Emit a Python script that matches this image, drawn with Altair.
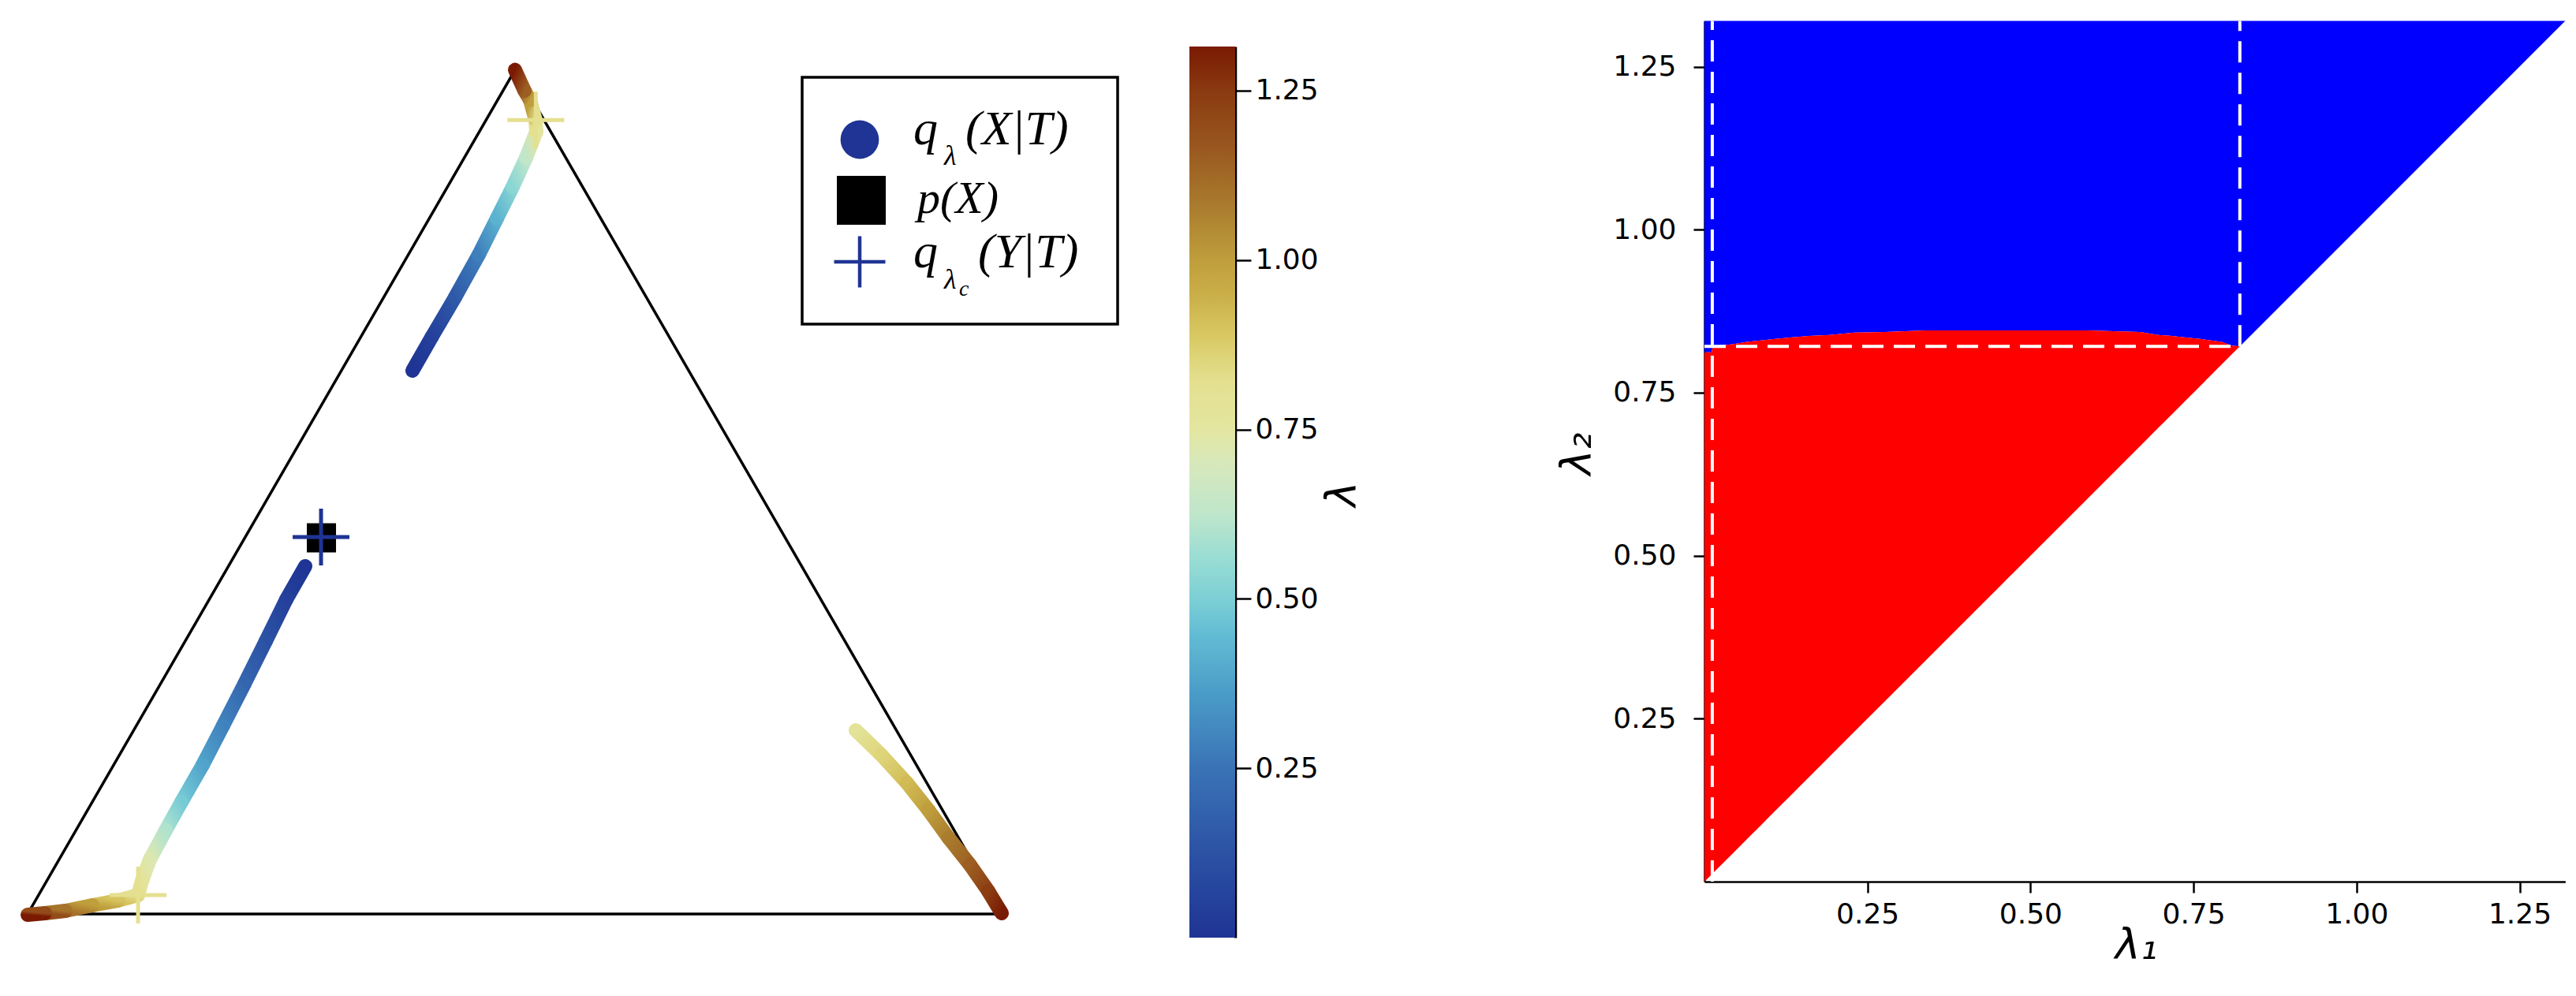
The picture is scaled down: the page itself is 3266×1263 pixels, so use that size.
import altair as alt
import pandas as pd

# ---------------- data ----------------
LAM_MAX = 1.315   # top of the colour bar
LAM_AX = 1.32     # upper limit of both axes of the right panel
TICKS = [0.25, 0.5, 0.75, 1.0, 1.25]

# colour map (lambda -> colour)
CMAP_L = [0.0, 0.136, 0.25, 0.36, 0.447, 0.5, 0.56, 0.625, 0.697, 0.75, 0.82,
          0.89, 0.95, 1.0, 1.07, 1.16, 1.25, 1.315]
CMAP_C = ["#1f3494", "#2d55a6", "#3a73b6", "#4a9cc8", "#62bcd4", "#7ccfd5",
          "#99ddd4", "#bfe6cb", "#d6e8bc", "#e3e6a0", "#e4e090", "#d8c862",
          "#caae48", "#bf9e3c", "#ac8030", "#9a5a20", "#8a3a10", "#7a1a03"]

# simplex outline (cartesian coordinates of the 2-simplex)
TRI_X = [0.0, 1.0, 0.5, 0.0]
TRI_Y = [0.0, 0.0, 0.866, 0.0]

# q_lambda(X|T), three trajectories: x, y, lambda
A_X = [0.3948, 0.4147, 0.4385, 0.4628, 0.4814, 0.4976, 0.5113, 0.5218, 0.5210, 0.5154, 0.5097, 0.5000]
A_Y = [0.5574, 0.5922, 0.6327, 0.6764, 0.7136, 0.7460, 0.7759, 0.8026, 0.8147, 0.8350, 0.8447, 0.8660]
A_L = [0.00, 0.05, 0.15, 0.28, 0.42, 0.53, 0.63, 0.76, 0.82, 1.00, 1.15, 1.315]

B_X = [0.2848, 0.2654, 0.2443, 0.2225, 0.2006, 0.1796, 0.1578, 0.1416, 0.1254, 0.1173, 0.1133,
       0.0930, 0.0663, 0.0388, 0.0178, 0.0000]
B_Y = [0.3568, 0.3228, 0.2799, 0.2362, 0.1934, 0.1529, 0.1149, 0.0858, 0.0558, 0.0340, 0.0194,
       0.0138, 0.0089, 0.0032, 0.0008, -0.0008]
B_L = [0.00, 0.05, 0.12, 0.20, 0.29, 0.38, 0.49, 0.60, 0.72, 0.78, 0.82,
       0.90, 1.00, 1.10, 1.20, 1.315]

C_X = [0.8495, 0.8754, 0.9021, 0.9239, 0.9450, 0.9668, 0.9854, 0.9992]
C_Y = [0.1885, 0.1634, 0.1343, 0.1068, 0.0777, 0.0502, 0.0235, 0.0008]
C_L = [0.78, 0.85, 0.92, 1.00, 1.08, 1.15, 1.24, 1.315]

# p(X)
P_X = [0.3014]
P_Y = [0.3859]
# q_lambda_c(Y|T)
Q_X = [0.3010, 0.5213, 0.1133]
Q_Y = [0.3867, 0.8145, 0.0194]
Q_L = [0.00, 0.82, 0.82]

# right panel: boundary between the two regions (lambda1 -> lambda2)
R_L1 = [0.000, 0.011, 0.013, 0.033, 0.047, 0.065, 0.086, 0.106, 0.131, 0.160, 0.192, 0.230,
        0.277, 0.339, 0.450, 0.587, 0.668, 0.696, 0.714, 0.733, 0.763, 0.777, 0.793,
        0.809, 0.821]
R_TOP = [0.812, 0.812, 0.822, 0.823, 0.825, 0.828, 0.830, 0.832, 0.8345, 0.837, 0.8385, 0.842,
         0.843, 0.8454, 0.8454, 0.8454, 0.843, 0.8386, 0.8373, 0.835, 0.832, 0.830, 0.828,
         0.822, 0.821]
R_DIAG = [0.000, 0.011, 0.013, 0.033, 0.047, 0.065, 0.086, 0.106, 0.131, 0.160, 0.192, 0.230,
          0.277, 0.339, 0.450, 0.587, 0.668, 0.696, 0.714, 0.733, 0.763, 0.777, 0.793,
          0.809, 0.821]
LAM_C = 0.821
LAM_LEFT = 0.012

LEGEND_LABELS = ["q", "λ", "(X|T)", "p(X)", "q", "λ", "c", "(Y|T)"]

# ---------------- layout (view pixels) ----------------
W, H = 3250, 1247
def sc(dom, rng):
    return alt.Scale(domain=dom, range=rng, nice=False, zero=False)

SXL = sc([0, 1], [27, 1263])
SYL = sc([0, 0.9], [1151, 1151 - 0.9 * 1236])
SXR = sc([0, LAM_AX], [2153, 2153 + LAM_AX * 826.8])
SYR = sc([0, LAM_AX], [1110, 1110 - LAM_AX * 826.8])
SXC = sc([0, 1], [1500, 1558])
SYC = sc([0, LAM_MAX], [1181, 51])
CSCALE = alt.Scale(domain=CMAP_L, range=CMAP_C)

def hex2rgb(h):
    return tuple(int(h[i:i + 2], 16) for i in (1, 3, 5))

def cmap(l):
    if l <= CMAP_L[0]:
        return CMAP_C[0]
    for i in range(len(CMAP_L) - 1):
        if l <= CMAP_L[i + 1]:
            t = (l - CMAP_L[i]) / (CMAP_L[i + 1] - CMAP_L[i])
            a, b = hex2rgb(CMAP_C[i]), hex2rgb(CMAP_C[i + 1])
            return "#%02x%02x%02x" % tuple(round(a[k] + (b[k] - a[k]) * t) for k in range(3))
    return CMAP_C[-1]

AX_STYLE = dict(labelFont="DejaVu Sans", labelFontSize=36, labelColor="black",
                tickColor="black", domainColor="black", grid=False,
                titleFont="DejaVu Sans", titleFontStyle="italic", titleFontWeight="normal",
                titleFontSize=54, titleColor="black")

# ---------------- right panel ----------------
blue_df = pd.DataFrame({"l1": R_L1 + [LAM_AX], "lo": R_TOP + [LAM_AX],
                        "hi": [LAM_AX] * (len(R_L1) + 1)})
red_df = pd.DataFrame({"l1": R_L1, "hi": R_TOP, "lo": R_DIAG})

blue = alt.Chart(blue_df).mark_area(color="#0000ff", opacity=1).encode(
    x=alt.X("l1:Q", scale=SXR, axis=alt.Axis(
        orient="bottom", offset=1110 - H, values=TICKS, format=".2f", title="λ₁",
        tickSize=14, tickWidth=2.5, domainWidth=2.5, labelPadding=10,
        titleX=2700, titleY=97, titleBaseline="alphabetic", titleAlign="center", **AX_STYLE)),
    y=alt.Y("lo:Q", scale=SYR, axis=alt.Axis(
        orient="left", offset=-2153, values=TICKS, format=".2f", title="λ₂",
        tickSize=14, tickWidth=2.5, domainWidth=2.5, labelPadding=22,
        titleX=-145, titleY=567, titleAngle=270, titleBaseline="alphabetic",
        titleAlign="center", **AX_STYLE)),
    y2="hi:Q",
)
red = alt.Chart(red_df).mark_area(color="#ff0000", opacity=1).encode(
    x=alt.X("l1:Q", scale=SXR, axis=None),
    y=alt.Y("lo:Q", scale=SYR, axis=None),
    y2="hi:Q",
)
dash_df = pd.DataFrame({"x": [LAM_LEFT, LAM_C, 0.0], "x2": [LAM_LEFT, LAM_C, LAM_C],
                        "y": [0.0, LAM_C, LAM_C], "y2": [LAM_AX, LAM_AX, LAM_C]})
dashes = alt.Chart(dash_df).mark_rule(color="white", strokeWidth=4, strokeDash=[27, 13]).encode(
    x=alt.X("x:Q", scale=SXR, axis=None), x2="x2:Q",
    y=alt.Y("y:Q", scale=SYR, axis=None), y2="y2:Q",
)

# ---------------- left panel ----------------
tri_df = pd.DataFrame({"x": TRI_X, "y": TRI_Y, "o": list(range(len(TRI_X)))})
tri = alt.Chart(tri_df).mark_line(color="black", strokeWidth=3.5).encode(
    x=alt.X("x:Q", scale=SXL, axis=None), y=alt.Y("y:Q", scale=SYL, axis=None), order="o:Q")

rows = []
for xs, ys, ls in [(A_X, A_Y, A_L), (B_X, B_Y, B_L), (C_X, C_Y, C_L)]:
    for i in range(len(xs) - 1):
        x0, y0, x1, y1 = xs[i], ys[i], xs[i + 1], ys[i + 1]
        gx = 0 if x0 <= x1 else 1
        gy = 0 if y0 >= y1 else 1
        grad = {"gradient": "linear", "x1": gx, "y1": gy, "x2": 1 - gx, "y2": 1 - gy,
                "stops": [{"offset": 0, "color": cmap(ls[i])},
                          {"offset": 1, "color": cmap(ls[i + 1])}]}
        rows.append({"x": x0, "y": y0, "x2": x1, "y2": y1, "grad": grad})
seg_df = pd.DataFrame(rows)
segs = alt.Chart(seg_df).mark_rule(strokeWidth=18, strokeCap="round").encode(
    x=alt.X("x:Q", scale=SXL, axis=None), x2="x2:Q",
    y=alt.Y("y:Q", scale=SYL, axis=None), y2="y2:Q",
    stroke=alt.Stroke("grad:N", scale=None),
)

PLUS = "M-1,0L1,0M0,-1L0,1"
px_df = pd.DataFrame({"x": P_X, "y": P_Y})
pmark = alt.Chart(px_df).mark_point(shape="square", filled=True, size=1369, color="black",
                                    opacity=1).encode(
    x=alt.X("x:Q", scale=SXL, axis=None), y=alt.Y("y:Q", scale=SYL, axis=None))
q_df = pd.DataFrame({"x": Q_X, "y": Q_Y, "lam": Q_L})
qmark = alt.Chart(q_df).mark_point(shape=PLUS, filled=False, size=5184, strokeWidth=5,
                                   opacity=1).encode(
    x=alt.X("x:Q", scale=SXL, axis=None), y=alt.Y("y:Q", scale=SYL, axis=None),
    stroke=alt.Stroke("lam:Q", scale=CSCALE, legend=None))

# ---------------- legend ----------------
one = pd.DataFrame({"k": [0]})
leg_box = alt.Chart(one).mark_rect(fill="white", stroke="black", strokeWidth=3.5).encode(
    x=alt.value(1009), x2=alt.value(1409), y=alt.value(90), y2=alt.value(403))
leg_c = alt.Chart(one).mark_point(shape="circle", filled=True, size=2376, color=CMAP_C[0],
                                  opacity=1).encode(x=alt.value(1082), y=alt.value(169))
leg_s = alt.Chart(one).mark_point(shape="square", filled=True, size=3844, color="black",
                                  opacity=1).encode(x=alt.value(1084), y=alt.value(246))
leg_p = alt.Chart(one).mark_point(shape=PLUS, filled=False, size=4225, strokeWidth=4.5,
                                  color=CMAP_C[0], opacity=1).encode(x=alt.value(1082), y=alt.value(324))
TXT_POS = [(1150, 175, 62), (1189, 201, 36), (1216, 175, 62), (1155, 262, 58),
           (1150, 331, 62), (1189, 358, 36), (1208, 367, 28), (1232, 331, 62)]
leg_txt = []
for lab, (tx, ty, fs) in zip(LEGEND_LABELS, TXT_POS):
    leg_txt.append(alt.Chart(pd.DataFrame({"t": [lab]})).mark_text(
        font="Liberation Serif", fontStyle="italic", fontSize=fs, align="left",
        baseline="alphabetic", color="black").encode(
        x=alt.value(tx), y=alt.value(ty), text="t:N"))

# ---------------- colour bar ----------------
cb_df = pd.DataFrame({"x0": [0], "x1": [1], "y0": [0.0], "y1": [LAM_MAX]})
grad_stops = [alt.GradientStop(offset=l / LAM_MAX, color=c) for l, c in zip(CMAP_L, CMAP_C)]
cbar = alt.Chart(cb_df).mark_rect(
    fill=alt.LinearGradient(gradient="linear", stops=grad_stops, x1=0, x2=0, y1=1, y2=0)
).encode(
    x=alt.X("x0:Q", scale=SXC, axis=None), x2="x1:Q",
    y=alt.Y("y0:Q", scale=SYC, axis=alt.Axis(
        orient="right", offset=1558 - W, values=TICKS, format=".2f", title="λ",
        tickSize=20, tickWidth=2.5, domainWidth=3.5, labelPadding=5,
        titleX=152, titleY=618, titleAngle=270, titleBaseline="alphabetic",
        titleAlign="center", **AX_STYLE)),
    y2="y1:Q",
)

chart = alt.layer(
    blue, red, dashes, tri, segs, pmark, qmark,
    leg_box, leg_c, leg_s, leg_p, *leg_txt, cbar
).resolve_scale(
    x="independent", y="independent", stroke="independent"
).properties(
    width=W, height=H, padding=0, autosize=alt.AutoSizeParams(type="none"),
    background="white"
).configure_view(strokeWidth=0)

chart.save("out.html", embed_options={"renderer": "svg", "actions": False})
